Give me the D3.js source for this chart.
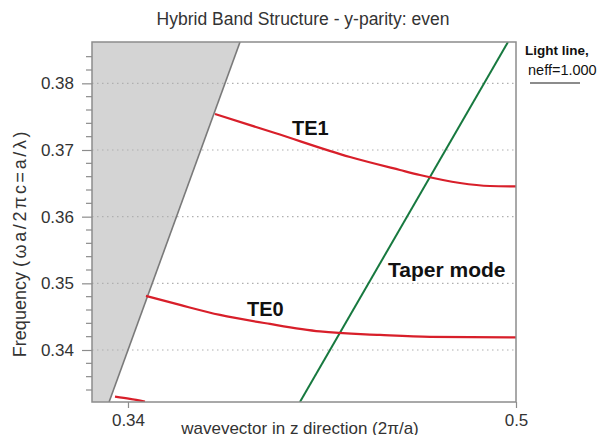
<!DOCTYPE html>
<html><head><meta charset="utf-8">
<script src="https://cdn.jsdelivr.net/npm/d3@7"></script>
<style>
body{margin:0;background:#fff;}
svg{display:block;font-family:"Liberation Sans",Arial,sans-serif;}
</style></head>
<body><svg id="c" width="600" height="435"></svg>
<script>
// ---- data ----
const xDomain = [0.32516, 0.5];
const yDomain = [0.3322, 0.3862];
const xTickValues = [0.34, 0.5];
const xTickLabels = ["0.34", "0.5"];
const yTickValues = [0.34, 0.35, 0.36, 0.37, 0.38];
const yTickLabels = ["0.34", "0.35", "0.36", "0.37", "0.38"];
const yMinorTicks = [0.334,0.336,0.338,0.342,0.344,0.346,0.348,0.352,0.354,0.356,0.358,0.362,0.364,0.366,0.368,0.372,0.374,0.376,0.378,0.382,0.384];
// light line (neff = 1.000): omega = k
const lightLine = [[0.3322, 0.3322], [0.3862, 0.3862]];
// taper mode line
const taperLine = [[0.4109, 0.3322], [0.4967, 0.3862]];
// TE1 band
const te1K = [0.37588, 0.40062, 0.43155, 0.45216, 0.46041, 0.47691, 0.48928, 0.5];
const te1W = [0.37540, 0.37255, 0.36895, 0.36700, 0.36625, 0.36505, 0.36460, 0.36453];
// TE0 band
const te0K = [0.34742, 0.36144, 0.37794, 0.39856, 0.41918, 0.44392, 0.46454, 0.5];
const te0W = [0.34811, 0.34676, 0.34526, 0.34391, 0.34279, 0.34226, 0.34196, 0.34189];
// higher-order fragment near bottom-left
const te2K = [0.33464, 0.34082, 0.34701];
const te2W = [0.33300, 0.33267, 0.33226];
const title = "Hybrid Band Structure - y-parity: even";
const xLabel = "wavevector in z direction (2\u03c0/a)";
const yLabelA = "Frequency ";
const yLabelB = "(\u03c9a/2\u03c0c=a/\u03bb)";
const labels = [
  {text: "TE1", k: 0.40763, w: 0.37225},
  {text: "TE0", k: 0.38907, w: 0.34511},
  {text: "Taper mode", k: 0.44722, w: 0.35096}
];
const legendTitle = "Light line,";
const legendSub = "neff=1.000";

// ---- layout ----
const L = 92, R = 516, T = 42, B = 402;
const svg = d3.select("#c");
const x = d3.scaleLinear().domain(xDomain).range([L, R]);
const y = d3.scaleLinear().domain(yDomain).range([B, T]);

svg.append("defs").append("clipPath").attr("id","clip")
  .append("rect").attr("x",L).attr("y",T).attr("width",R-L).attr("height",B-T);

const plot = svg.append("g").attr("clip-path","url(#clip)");

// gray region (left of light line)
const poly = [[xDomain[0], yDomain[1]], lightLine[1], lightLine[0], [xDomain[0], yDomain[0]]];
plot.append("path")
  .attr("d", d3.line().x(d=>x(d[0])).y(d=>y(d[1]))(poly) + "Z")
  .attr("fill", "#d4d4d4");

// grid lines
plot.selectAll("line.grid").data(yTickValues).enter().append("line")
  .attr("x1", L).attr("x2", R).attr("y1", d=>y(d)).attr("y2", d=>y(d))
  .attr("stroke", "#b0b0b0").attr("stroke-width", 1.2).attr("stroke-dasharray", "1.5,3.5");

// light line edge
plot.append("path")
  .attr("d", d3.line().x(d=>x(d[0])).y(d=>y(d[1]))(lightLine))
  .attr("stroke", "#7a7a7a").attr("stroke-width", 1.6).attr("fill", "none");

// taper mode
plot.append("path")
  .attr("d", d3.line().x(d=>x(d[0])).y(d=>y(d[1]))(taperLine))
  .attr("stroke", "#17793f").attr("stroke-width", 2).attr("fill", "none");

// bands
const band = d3.line().x(d=>x(d[0])).y(d=>y(d[1])).curve(d3.curveMonotoneX);
[[te1K, te1W], [te0K, te0W], [te2K, te2W]].forEach(([ks, ws]) => {
  plot.append("path")
    .attr("d", band(ks.map((k,i)=>[k, ws[i]])))
    .attr("stroke", "#d81f2a").attr("stroke-width", 2.2).attr("fill", "none");
});

// frame
svg.append("rect").attr("x",L).attr("y",T).attr("width",R-L).attr("height",B-T)
  .attr("fill","none").attr("stroke","#8c8c8c").attr("stroke-width",1.5);

// y axis
const yAxis = d3.axisLeft(y).tickValues(yTickValues).tickSize(10).tickPadding(8)
  .tickFormat((d,i)=>yTickLabels[i]);
const gy = svg.append("g").attr("transform",`translate(${L},0)`).call(yAxis);
gy.select(".domain").remove();
gy.selectAll(".tick line").attr("stroke","#8c8c8c").attr("stroke-width",1.2);
gy.selectAll(".tick text").attr("font-size",17).attr("fill","#333").attr("font-family","Liberation Sans, Arial");
svg.append("g").selectAll("line").data(yMinorTicks).enter().append("line")
  .attr("x1", L-6).attr("x2", L).attr("y1", d=>y(d)).attr("y2", d=>y(d))
  .attr("stroke","#8c8c8c").attr("stroke-width",1.2);

// x axis
const xAxis = d3.axisBottom(x).tickValues(xTickValues).tickSize(6).tickPadding(6)
  .tickFormat((d,i)=>xTickLabels[i]);
const gx = svg.append("g").attr("transform",`translate(0,${B})`).call(xAxis);
gx.select(".domain").remove();
gx.selectAll(".tick line").attr("stroke","#8c8c8c").attr("stroke-width",1.2);
gx.selectAll(".tick text").attr("font-size",17).attr("fill","#333").attr("font-family","Liberation Sans, Arial");

// title
svg.append("text").attr("x",303).attr("y",25).attr("text-anchor","middle")
  .attr("font-size",17.5).attr("fill","#333").text(title);

// axis labels
svg.append("text").attr("x",300).attr("y",434).attr("text-anchor","middle")
  .attr("font-size",17).attr("fill","#333").text(xLabel);
const yl = svg.append("text").attr("transform","translate(26,243) rotate(-90)")
  .attr("text-anchor","middle").attr("font-size",18).attr("fill","#333");
yl.append("tspan").text(yLabelA);
yl.append("tspan").attr("letter-spacing","2.6px").text(yLabelB);

// curve labels
labels.forEach(l => {
  svg.append("text").attr("x", x(l.k)).attr("y", y(l.w))
    .attr("font-size", l.text.length > 4 ? 21 : 20).attr("font-weight","bold").attr("fill","#111").text(l.text);
});

// legend
svg.append("text").attr("x",525).attr("y",55).attr("font-size",13.5).attr("font-weight","bold")
  .attr("fill","#111").text(legendTitle);
svg.append("text").attr("x",528).attr("y",75).attr("font-size",14.5)
  .attr("fill","#111").text(legendSub);
svg.append("line").attr("x1",530).attr("x2",580).attr("y1",83).attr("y2",83)
  .attr("stroke","#8c8c8c").attr("stroke-width",2);
</script>
</body></html>
